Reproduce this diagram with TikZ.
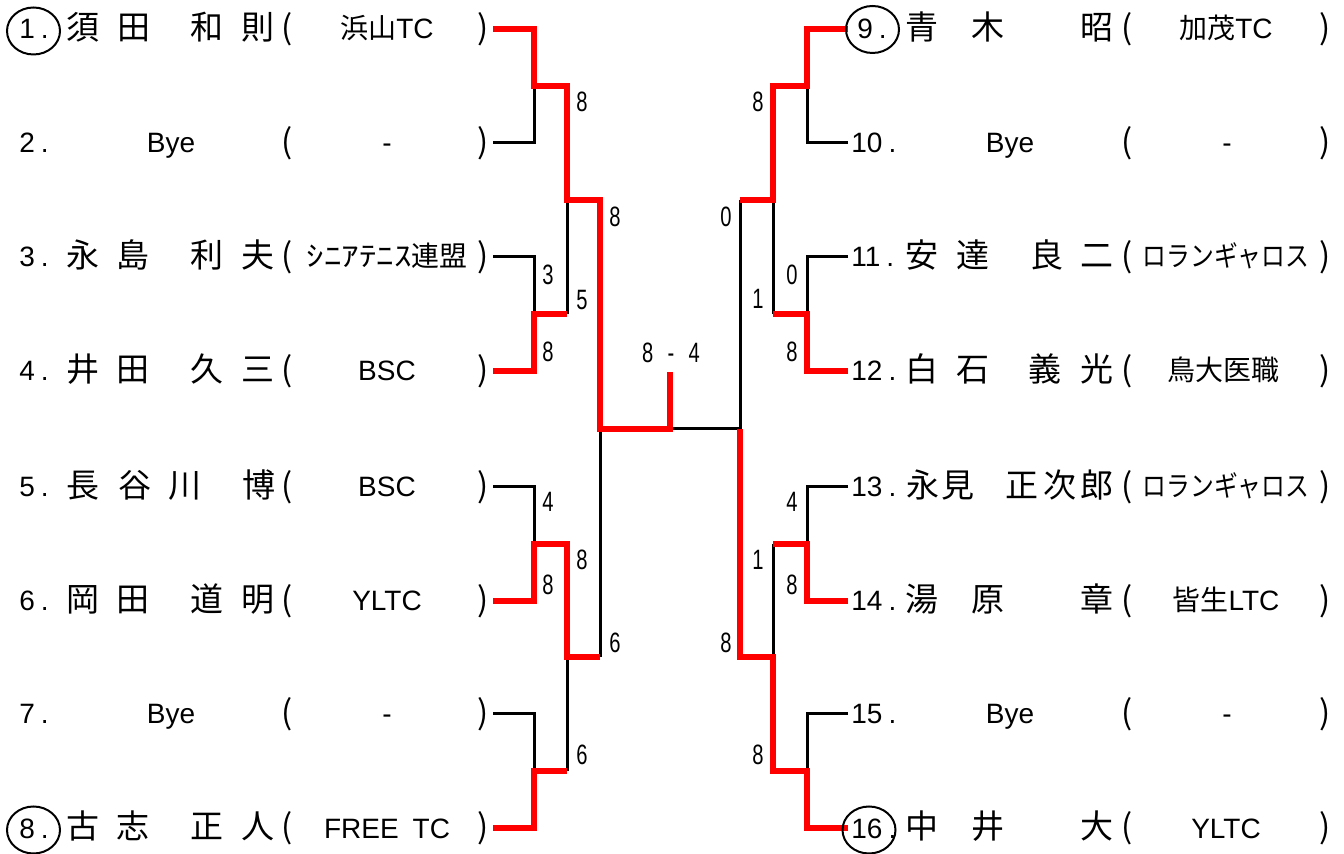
\documentclass[tikz,border=0pt]{standalone}
\usepackage{fontspec}
\setmainfont{Liberation Sans}
\newfontfamily\jpfont{Noto Sans CJK JP}
\usetikzlibrary{shapes.geometric}
\newcommand\scoretxt[1]{\scalebox{0.72}[1]{#1}}
\newcommand\jc[4]{\node[nmch] (#1) at (#2,#3) {#4};}
\begin{document}
\begin{tikzpicture}[x=0.5pt,y=-0.5pt,
  blk/.style={line width=1.5pt, black, line join=miter},
  win/.style={line width=3.2pt, red, line join=miter},
  nmch/.style={anchor=base, inner sep=0, font=\jpfont\fontsize{16.5}{18}\selectfont},
  lat/.style={anchor=base, inner sep=0, font=\fontsize{14}{16}\selectfont},
  prn/.style={anchor=base, inner sep=0, font=\jpfont\fontsize{16.5}{18}\selectfont},
  num/.style={anchor=base west, inner sep=0, font=\fontsize{14}{16}\selectfont},
  score/.style={inner sep=0, font=\fontsize{14}{16}\selectfont},
  seed/.style={draw, ellipse, line width=1pt, inner sep=0, minimum width=26.5pt, minimum height=23.5pt}]
\useasboundingbox (0,0) rectangle (1344,854);
% ---------- coordinates ----------
\coordinate (L1) at (493,29);  \coordinate (L2) at (493,143);
\coordinate (L3) at (493,257); \coordinate (L4) at (493,371);
\coordinate (L5) at (493,487); \coordinate (L6) at (493,601);
\coordinate (L7) at (493,714); \coordinate (L8) at (493,828);
\coordinate (R9) at (848,29);  \coordinate (R10) at (848,143);
\coordinate (R11) at (848,257); \coordinate (R12) at (848,371);
\coordinate (R13) at (848,487); \coordinate (R14) at (848,601);
\coordinate (R15) at (848,714); \coordinate (R16) at (848,828);
\coordinate (A12) at (534,86);  \coordinate (A34) at (534,314);
\coordinate (A56) at (534,544); \coordinate (A78) at (534,771);
\coordinate (A910) at (807,86);  \coordinate (A1112) at (807,314);
\coordinate (A1314) at (807,544); \coordinate (A1516) at (807,771);
\coordinate (B1) at (567,200); \coordinate (B2) at (567,657);
\coordinate (B3) at (773,200); \coordinate (B4) at (773,657);
\coordinate (C) at (600,429); \coordinate (D) at (740,429);
\coordinate (F) at (670,429); \coordinate (Fs) at (670,372);
% ---------- black lines ----------
\draw[blk] (L2) -| (A12);
\draw[blk] (L3) -| (A34);
\draw[blk] (L5) -| (A56);
\draw[blk] (L7) -| (A78);
\draw[blk] (B1) -- (B1 |- A34);
\draw[blk] (B2) -- (B2 |- A78);
\draw[blk] (C) -- (C |- B2);
\draw[blk] (F) -- (D);
\draw[blk] (D) -- (D |- B3);
\draw[blk] (R10) -| (A910);
\draw[blk] (R11) -| (A1112);
\draw[blk] (R13) -| (A1314);
\draw[blk] (R15) -| (A1516);
\draw[blk] (B3) -- (B3 |- A1112);
\draw[blk] (B4) -- (B4 |- A1314);
% ---------- red lines ----------
\draw[win] (L1) -| (A12) -| (B1) -| (C) -| (Fs);
\draw[win] (L4) -| (A34) -- (A34 -| B1);
\draw[win] (L6) -| (A56) -| (B2) -- (B2 -| C);
\draw[win] (L8) -| (A78) -- (A78 -| B2);
\draw[win] (R9) -| (A910) -| (B3) -- (B3 -| D);
\draw[win] (R12) -| (A1112) -- (A1112 -| B3);
\draw[win] (R14) -| (A1314) -- (A1314 -| B4);
\draw[win] (R16) -| (A1516) -| (B4) -| (D);
% ---------- scores ----------
\node[score] (s1) at (582,102) {\scoretxt{8}};
\node[score] (s2) at (615,217) {\scoretxt{8}};
\node[score] (s3) at (548,275) {\scoretxt{3}};
\node[score] (s4) at (582,300) {\scoretxt{5}};
\node[score] (s5) at (548,352) {\scoretxt{8}};
\node[score] (s6) at (548,502) {\scoretxt{4}};
\node[score] (s7) at (582,560) {\scoretxt{8}};
\node[score] (s8) at (548,585) {\scoretxt{8}};
\node[score] (s9) at (615,643) {\scoretxt{6}};
\node[score] (s10) at (582,755) {\scoretxt{6}};
\node[score] (t1) at (758,102) {\scoretxt{8}};
\node[score] (t2) at (726,217) {\scoretxt{0}};
\node[score] (t3) at (792,275) {\scoretxt{0}};
\node[score] (t4) at (758,299) {\scoretxt{1}};
\node[score] (t5) at (792,352) {\scoretxt{8}};
\node[score] (t6) at (792,502) {\scoretxt{4}};
\node[score] (t7) at (758,560) {\scoretxt{1}};
\node[score] (t8) at (792,585) {\scoretxt{8}};
\node[score] (t9) at (726,643) {\scoretxt{8}};
\node[score] (t10) at (758,755) {\scoretxt{8}};
\node[score] (fin) at (671,353) {\scoretxt{8\hspace{10pt}-\hspace{10pt}4}};
% ---------- numbers ----------
\node[num] (n1) at (19,39) {1\kern3pt.};
\node[num] (n2) at (19,153) {2\kern3pt.};
\node[num] (n3) at (19,267) {3\kern3pt.};
\node[num] (n4) at (19,381) {4\kern3pt.};
\node[num] (n5) at (19,497) {5\kern3pt.};
\node[num] (n6) at (19,611) {6\kern3pt.};
\node[num] (n7) at (19,724) {7\kern3pt.};
\node[num] (n8) at (19,838) {8\kern3pt.};
\node[num] (n9) at (857,39) {9\kern3pt.};
\node[num] (n10) at (851,153) {10\kern3pt.};
\node[num] (n11) at (851,267) {11\kern3pt.};
\node[num] (n12) at (851,381) {12\kern3pt.};
\node[num] (n13) at (851,497) {13\kern3pt.};
\node[num] (n14) at (851,611) {14\kern3pt.};
\node[num] (n15) at (851,724) {15\kern3pt.};
\node[num] (n16) at (851,838) {16\kern3pt.};
\node[seed] (c1) at (33.5,31) {};
\node[seed] (c8) at (33.5,830) {};
\node[seed] (c9) at (872.5,29.5) {};
\node[seed] (c16) at (869,830) {};
% ---------- names ----------
\jc{a1}{83}{40}{須}\jc{a2}{134}{40}{田}\jc{a3}{207}{40}{和}\jc{a4}{258}{40}{則}
\jc{b1}{83}{268}{永}\jc{b2}{133}{268}{島}\jc{b3}{207}{268}{利}\jc{b4}{258}{268}{夫}
\jc{c1n}{83}{382}{井}\jc{c2n}{133}{382}{田}\jc{c3n}{207}{382}{久}\jc{c4n}{258}{382}{三}
\jc{d1}{83}{498}{長}\jc{d2}{135}{498}{谷}\jc{d3}{185}{498}{川}\jc{d4}{259}{498}{博}
\jc{e1}{83}{612}{岡}\jc{e2}{133}{612}{田}\jc{e3}{207}{612}{道}\jc{e4}{258}{612}{明}
\jc{f1}{83}{839}{古}\jc{f2}{133}{839}{志}\jc{f3}{207}{839}{正}\jc{f4}{258}{839}{人}
\jc{g1}{922}{40}{青}\jc{g2}{988}{40}{木}\jc{g3}{1097}{40}{昭}
\jc{h1}{922}{268}{安}\jc{h2}{973}{268}{達}\jc{h3}{1047}{268}{良}\jc{h4}{1097}{268}{二}
\jc{i1}{922}{382}{白}\jc{i2}{973}{382}{石}\jc{i3}{1045}{382}{義}\jc{i4}{1097}{382}{光}
\jc{j1}{923}{498}{永}\jc{j2}{958}{498}{見}\jc{j3}{1022}{498}{正}\jc{j4}{1060}{498}{次}\jc{j5}{1097}{498}{郎}
\jc{k1}{922}{612}{湯}\jc{k2}{988}{612}{原}\jc{k3}{1097}{612}{章}
\jc{l1}{922}{839}{中}\jc{l2}{988}{839}{井}\jc{l3}{1097}{839}{大}
\node[lat] (bye2) at (171,153) {Bye};
\node[lat] (bye7) at (171,724) {Bye};
\node[lat] (bye10) at (1010,153) {Bye};
\node[lat] (bye15) at (1010,724) {Bye};
% ---------- parentheses ----------
\foreach \yy [count=\k] in {40,154,268,382,498,612,725,839}{
  \node[prn] (lo\k) at (287,\yy) {(};
  \node[prn] (lc\k) at (483,\yy) {)};
  \node[prn] (ro\k) at (1127,\yy) {(};
  \node[prn] (rc\k) at (1325,\yy) {)};
}
% ---------- clubs ----------
\node[lat] (cl1) at (387,39) {{\jpfont 浜山}TC};
\node[lat] (cl2) at (387,153) {-};
\node[lat] (cl3) at (387,267) {{\jpfont\scalebox{1.25}[1]{ｼﾆｱﾃﾆｽ}連盟}};
\node[lat] (cl4) at (387,381) {BSC};
\node[lat] (cl5) at (387,497) {BSC};
\node[lat] (cl6) at (387,611) {YLTC};
\node[lat] (cl7) at (387,724) {-};
\node[lat] (cl8) at (387,838) {FREE\hspace{7pt}TC};
\node[lat] (cl9) at (1226,39) {{\jpfont 加茂}TC};
\node[lat] (cl10) at (1227,153) {-};
\node[lat] (cl11) at (1226,267) {{\jpfont\scalebox{0.85}[1]{ロランギャロス}}};
\node[lat] (cl12) at (1223,381) {{\jpfont 鳥大医職}};
\node[lat] (cl13) at (1226,497) {{\jpfont\scalebox{0.85}[1]{ロランギャロス}}};
\node[lat] (cl14) at (1226,611) {{\jpfont 皆生}LTC};
\node[lat] (cl15) at (1227,724) {-};
\node[lat] (cl16) at (1226,838) {YLTC};
\end{tikzpicture}
\end{document}
